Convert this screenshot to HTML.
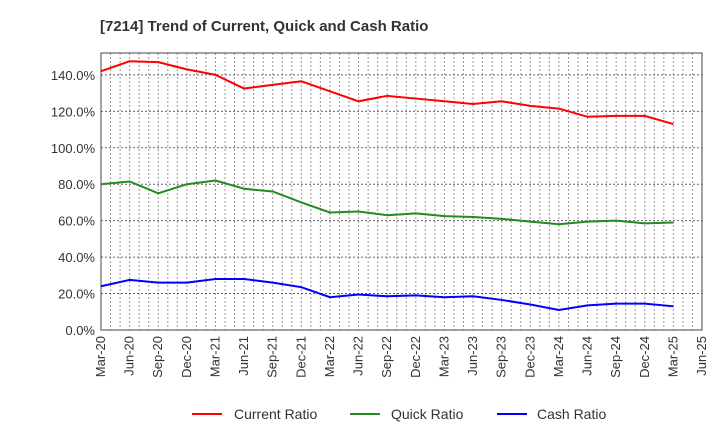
<!DOCTYPE html>
<html><head><meta charset="utf-8"><style>
body{margin:0;background:#fff;font-family:"Liberation Sans",sans-serif}
</style></head><body>
<svg id="c" width="720" height="440" xmlns="http://www.w3.org/2000/svg">
<text x="100" y="31" font-size="15" font-weight="bold" fill="#333">[7214]  Trend of Current, Quick and Cash Ratio</text>
<g id="grid"></g><g id="axes"></g><g id="lines"></g>
<g>
<line x1="192" y1="414" x2="222" y2="414" stroke="#f00" stroke-width="2"/>
<text x="234" y="419" font-size="14" fill="#333">Current Ratio</text>
<line x1="350" y1="414" x2="380" y2="414" stroke="#228b22" stroke-width="2"/>
<text x="391" y="419" font-size="14" fill="#333">Quick Ratio</text>
<line x1="497" y1="414" x2="527" y2="414" stroke="#00f" stroke-width="2"/>
<text x="537" y="419" font-size="14" fill="#333">Cash Ratio</text>
</g>
</svg>
<script>
const xLabels=["Mar-20","Jun-20","Sep-20","Dec-20","Mar-21","Jun-21","Sep-21","Dec-21","Mar-22","Jun-22","Sep-22","Dec-22","Mar-23","Jun-23","Sep-23","Dec-23","Mar-24","Jun-24","Sep-24","Dec-24","Mar-25","Jun-25"];
const yTicks=[0,20,40,60,80,100,120,140];
const currentRatio=[142,147.5,147,143,140,132.5,134.5,136.5,131,125.5,128.5,127,125.5,124,125.5,123,121.5,117,117.5,117.5,113];
const quickRatio=[80,81.5,75,80,82,77.5,76,70,64.5,65,63,64,62.5,62,61,59.5,58,59.5,60,58.5,59];
const cashRatio=[24,27.5,26,26,28,28,26,23.5,18,19.5,18.5,19,18,18.5,16.5,14,11,13.5,14.5,14.5,13];
const L=101,R=702,T=53,B=330,YMAX=152;
const NS="http://www.w3.org/2000/svg";
const xq=i=>L+(R-L)*i/(xLabels.length-1);
const y=v=>B-(B-T)*v/YMAX;
function mk(t,a,p){const e=document.createElementNS(NS,t);for(const k in a)e.setAttribute(k,a[k]);p.appendChild(e);return e;}
const grid=document.getElementById('grid'),axes=document.getElementById('axes'),lines=document.getElementById('lines');
const months=(xLabels.length-1)*3;
for(let m=1;m<months;m++){const x=L+(R-L)*m/months;
const g=mk('line',{x1:x,x2:x,y1:T,y2:B,stroke:'#999','stroke-dasharray':'2,2','stroke-width':1},grid);

}
yTicks.forEach(v=>{const g=mk('line',{x1:L,x2:R,y1:y(v),y2:y(v),stroke:'#666','stroke-dasharray':'2,2','stroke-width':1},grid);


const t=mk('text',{x:L-6,y:y(v)+5,'font-size':13,fill:'#333','text-anchor':'end'},axes);t.textContent=v.toFixed(1)+'%';

});
xLabels.forEach((s,i)=>{const x=xq(i);const t=mk('text',{x:x+4,y:B+6,'font-size':13,fill:'#333','text-anchor':'end',transform:`rotate(-90 ${x+4} ${B+6})`},axes);t.textContent=s;

});
const fr=mk('rect',{x:L,y:T,width:R-L,height:B-T,fill:'none',stroke:'#444','stroke-width':1},axes);


[[currentRatio,'#f00','current-ratio-line'],[quickRatio,'#228b22','quick-ratio-line'],[cashRatio,'#00f','cash-ratio-line']].forEach(([d,c,n])=>{
const p=mk('polyline',{points:d.map((v,i)=>xq(i)+','+y(v)).join(' '),fill:'none',stroke:c,'stroke-width':2},lines);

});
</script>
</body></html>
